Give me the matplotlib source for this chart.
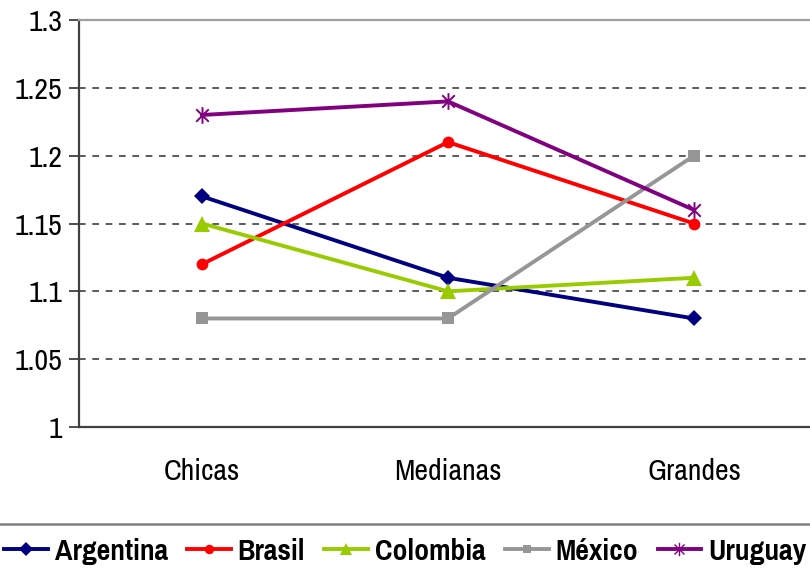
import matplotlib
matplotlib.use("Agg")
import os
import matplotlib.pyplot as plt
from matplotlib.path import Path
from matplotlib.lines import Line2D
from matplotlib import font_manager
from matplotlib.font_manager import FontProperties

categories = ["Chicas", "Medianas", "Grandes"]
argentina = [1.17, 1.11, 1.08]
brasil = [1.12, 1.21, 1.15]
colombia = [1.15, 1.10, 1.11]
mexico = [1.08, 1.08, 1.20]
uruguay = [1.23, 1.24, 1.16]
yticks = [1, 1.05, 1.1, 1.15, 1.2, 1.25, 1.3]
ytick_labels = ["1", "1.05", "1.1", "1.15", "1.2", "1.25", "1.3"]


def narrow_font(bold):
    """Look for an installed narrow/condensed sans face."""
    files = [f.fname for f in font_manager.fontManager.ttflist]
    skip = ("Italic", "Oblique", "Serif", "Mono", "Light", "Thin", "Black",
            "Semi", "Extra", "Medium")
    for key in ("LiberationSansNarrow", "Narrow", "Condensed"):
        cands = []
        for fn in files:
            base = os.path.basename(fn)
            if key not in base or any(s in base for s in skip):
                continue
            if ("Bold" in base) == bold:
                cands.append(fn)
        if cands:
            return sorted(cands, key=len)[0]
    return None


reg_path = narrow_font(False)
bold_path = narrow_font(True)


def fp(size, bold=False):
    path = bold_path if bold else reg_path
    if path:
        return FontProperties(fname=path, size=size)
    return FontProperties(family="Liberation Sans", size=size * 0.82,
                          weight="bold" if bold else "normal")


# asterisk-like star: vertical bar plus an X
star = Path(
    [(0, -1), (0, 1), (-0.75, -0.75), (0.75, 0.75), (-0.75, 0.75), (0.75, -0.75)],
    [Path.MOVETO, Path.LINETO, Path.MOVETO, Path.LINETO, Path.MOVETO, Path.LINETO],
)

series = [
    ("Argentina", argentina, "#000080", "D", 8.5),
    ("Brasil", brasil, "#ff0000", "o", 8.5),
    ("Colombia", colombia, "#99cc00", "^", 11),
    ("México", mexico, "#969696", "s", 8),
    ("Uruguay", uruguay, "#800080", star, 12),
]

fig = plt.figure(figsize=(8.1, 5.7), dpi=100)
ax = fig.add_axes([79 / 810, 1 - 427 / 570, (817 - 79) / 810, (427 - 20) / 570])

x = list(range(len(categories)))
for name, vals, color, marker, ms in series:
    kw = dict(markeredgewidth=1.4) if marker is star else dict(markeredgewidth=0)
    ax.plot(x, vals, color=color, lw=2.8, marker=marker, markersize=ms,
            markerfacecolor=color, markeredgecolor=color, label=name, clip_on=False, **kw)

ax.set_xlim(-0.5, 2.5)
ax.set_ylim(1, 1.3)
ax.set_xticks(x)
ax.set_xticklabels(categories)
ax.set_yticks(yticks)
ax.set_yticklabels(ytick_labels)
for lab in ax.get_xticklabels() + ax.get_yticklabels():
    lab.set_fontproperties(fp(21.5))

for yv in yticks[1:-1]:
    ax.axhline(yv, color="#404040", lw=1.2, ls=(0, (4, 4)), zorder=0)

ax.spines["right"].set_visible(False)
ax.spines["top"].set_color("#a0a0a0")
ax.spines["top"].set_linewidth(1.6)
ax.spines["left"].set_color("#404040")
ax.spines["left"].set_linewidth(1.6)
ax.spines["bottom"].set_color("#404040")
ax.spines["bottom"].set_linewidth(1.6)

ax.tick_params(axis="y", length=7, width=1.3, color="#404040", pad=5)
ax.tick_params(axis="x", length=0, pad=22)

# separator above the legend
fig.add_artist(Line2D([0, 1], [1 - 524 / 570] * 2, color="#808080", lw=1.8,
                      transform=fig.transFigure))

handles = []
for name, vals, color, marker, ms in series:
    kw = dict(markeredgewidth=1.0) if marker is star else dict(markeredgewidth=0)
    handles.append(Line2D([], [], color=color, lw=2.8, marker=marker,
                          markersize=ms * 0.8, markerfacecolor=color,
                          markeredgecolor=color, **kw))
leg = fig.legend(handles, [s[0] for s in series], loc="center left",
                 bbox_to_anchor=(4 / 810, 1 - 551 / 570), ncol=5, frameon=False,
                 prop=fp(23.2, bold=True), handlelength=1.35,
                 handletextpad=0.22, columnspacing=0.6, borderpad=0, borderaxespad=0)

fig.savefig("out.png", dpi=100)
